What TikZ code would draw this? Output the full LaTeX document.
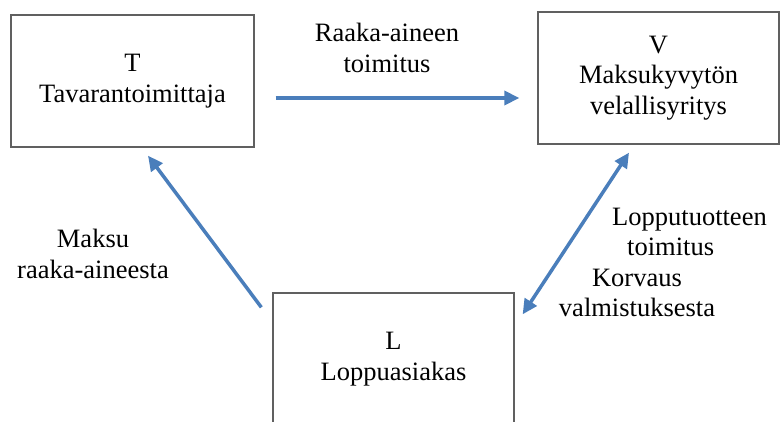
\documentclass[tikz,border=0pt]{standalone}
\usepackage{fontspec}
\setmainfont{Liberation Serif}
\usetikzlibrary{arrows.meta}
\definecolor{sininen}{HTML}{4A7EBB}
\definecolor{reuna}{HTML}{606060}
\begin{document}
\begin{tikzpicture}[x=1pt, y=-1pt, >={Triangle[length=15pt,width=14pt]},
  laatikko/.style={draw=reuna, line width=1.3pt, minimum width=243pt, minimum height=132pt, inner sep=0pt, align=center, font=\fontsize{26.5}{30.5}\selectfont},
  teksti/.style={align=center, inner sep=0pt, font=\fontsize{26.5}{30.5}\selectfont},
  nuoli/.style={draw=sininen, line width=3.5pt}]
\useasboundingbox (0,0) rectangle (780,421);
\clip (0,0) rectangle (780,421);
\node[laatikko] (T) at (132.5,81) {T\\Tavarantoimittaja};
\node[laatikko, minimum width=241pt] (V) at (658.5,78) {V\\Maksukyvytön\\velallisyritys};
\node[laatikko, minimum width=241pt] (L) at (393.5,359) {L\\Loppuasiakas};
\node[teksti] (raaka) at (387,48) {Raaka-aineen\\toimitus};
\node[teksti] (maksu) at (93,254) {Maksu\\raaka-aineesta};
\node[teksti, align=left, anchor=west] (loppu) at (612,232) {Lopputuotteen\\\hspace*{15pt}toimitus};
\node[teksti] (korvaus) at (637,293) {Korvaus\\valmistuksesta};
\coordinate (a) at ([yshift=-17pt]T.east);
\draw[nuoli,->, shorten <=21pt, shorten >=18pt] (a) -- (a -| V.west);
\draw[nuoli,->] ([xshift=-11pt,yshift=-15pt]L.north west) -- ([xshift=15.5pt,yshift=-8pt]T.south);
\draw[nuoli,<->] ([xshift=8pt,yshift=-22pt]L.north east) -- ([xshift=-29.5pt,yshift=-8pt]V.south);
\end{tikzpicture}
\end{document}
